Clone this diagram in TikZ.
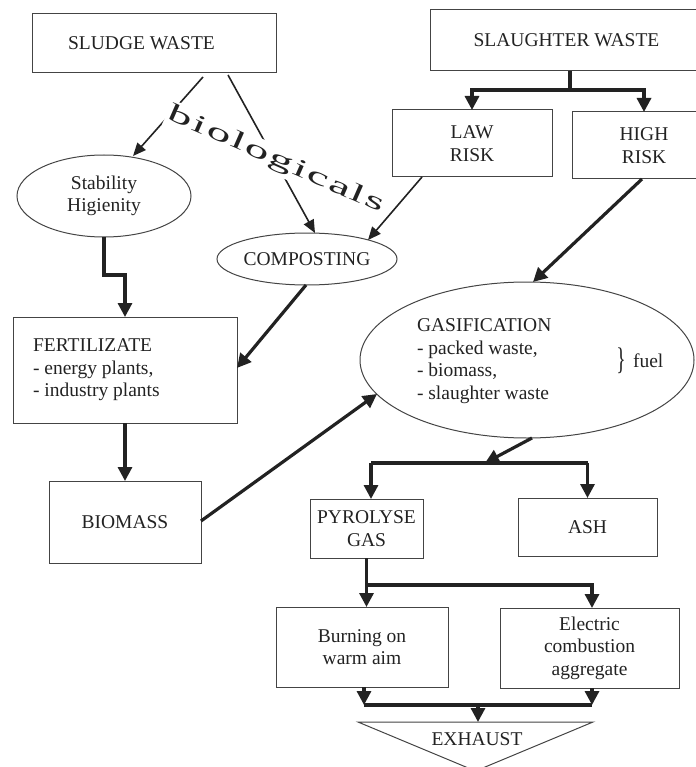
\documentclass[tikz,border=0pt]{standalone}
\usepackage{fontspec}
\setmainfont{Liberation Serif}
\usetikzlibrary{arrows.meta,shapes.geometric,calc}
\definecolor{ink}{HTML}{222222}
\definecolor{boxline}{HTML}{444444}
\newcommand{\ks}{\kern1pt}
\begin{document}
\begin{tikzpicture}[x=1pt,y=-1pt,
  font=\fontsize{19.5}{22.5}\selectfont,
  every node/.style={text=ink, inner sep=0pt, outer sep=0pt},
  box/.style={draw=boxline, line width=1pt, rectangle, align=center},
  oval/.style={draw=boxline, line width=1pt, ellipse, align=center},
  thickarrow/.style={draw=ink, line width=3.2pt, -{Triangle[width=14pt,length=14pt]}},
  thickline/.style={draw=ink, line width=3.2pt},
  thinarrow/.style={draw=ink, line width=1.6pt, -{Triangle[width=11pt,length=13pt]}}
]
\useasboundingbox (0,0) rectangle (695,767);

% nodes
\node[box, minimum width=244pt, minimum height=59pt] (sludge) at (154,43.5) {SLUDGE WASTE\hspace*{25pt}};
\node[box, minimum width=273pt, minimum height=61pt] (slaughter) at (566.5,40.5) {SLAUGHTER WASTE};
\node[box, minimum width=160pt, minimum height=67pt] (law) at (472,143.5) {LAW\\RISK};
\node[box, minimum width=144pt, minimum height=67pt] (high) at (644,145.5) {HIGH\\RISK};
\node[oval, minimum width=174pt, minimum height=82pt] (stab) at (104,196) {Stability\\Higienity};
\node[oval, minimum width=180pt, minimum height=52pt] (compost) at (307,259) {COMPOSTING};
\node[box, minimum width=224pt, minimum height=106pt] (fert) at (125,370) {};
\node[anchor=west, align=left] (ferttext) at (33,370) {FERTILIZATE\\- energy plants,\\- industry plants};
\node[box, minimum width=152pt, minimum height=82pt] (biomass) at (125,522) {BIOMASS};
\node[oval, minimum width=334pt, minimum height=156pt] (gas) at (527,360) {};
\node[anchor=west, align=left] (gastext) at (417,361) {GASIFICATION\\- packed waste,\\- biomass,\\- slaughter waste};
\node (brace) at (621,361) {\scalebox{1}[1.6]{\}}};
\node[anchor=west] (fuel) at (633,361) {fuel};
\node[box, minimum width=113pt, minimum height=59pt] (pyro) at (366.5,528.5) {PYROLYSE\\GAS};
\node[box, minimum width=139pt, minimum height=58pt] (ash) at (587.5,527) {ASH};
\node[box, minimum width=172pt, minimum height=80pt] (burn) at (362,647) {Burning on\\warm aim};
\node[box, minimum width=179pt, minimum height=80pt] (elec) at (589.5,648) {Electric\\combustion\\aggregate};
\coordinate (exl) at (358,722);
\coordinate (exr) at (593,722);
\coordinate (exa) at (475.5,771);
\draw[boxline, line width=1pt] (exl) -- (exr) -- (exa) -- cycle;
\node (exhaust) at (477,739) {EXHAUST};

% thin connectors (biological)
\draw[thinarrow] ($(sludge.south west)+(171,4)$) -- ($(stab.north)+(29,1)$);
\draw[thinarrow] ($(sludge.south west)+(196,2)$) -- ($(compost.north)+(8,0)$);
\draw[thinarrow] ($(law.south west)+(30,0)$) -- ($(compost.north)+(61,7)$);

% biologicals label over the thin connectors
\node[rotate=-23.7, fill=white, inner xsep=2pt, inner ysep=2.5pt, font=\fontsize{25}{25}\selectfont] (bio) at (276,160)
  {\scalebox{1.95}[1]{b\ks i\ks o\ks l\ks o\ks g\ks i\ks c\ks a\ks l\ks s}};

% left column
\draw[thickarrow] (stab.south) -- ++(0,38) -| (fert.north);
\draw[thickarrow] ($(compost.south)+(-1,0)$) -- ($(fert.east)+(0,-2)$);
\draw[thickarrow] (fert.south) -- (biomass.north);
\draw[thickarrow] ($(biomass.east)+(0,-1)$) -- ($(gas.west)+(17,34)$);

% slaughter branch
\coordinate (sj) at ($(slaughter.south)+(3.5,19)$);
\draw[thickline] (slaughter.south -| sj) -- (sj);
\draw[thickarrow] (sj) -| (law.north);
\draw[thickarrow] (sj) -| (high.north);
\draw[thickarrow] ($(high.south west)+(70,0)$) -- ($(gas.north)+(6,0)$);

% gasification outputs
\coordinate (gl) at ($(pyro.north)+(4.5,-36)$);
\coordinate (gr) at ($(ash.north)+(0,-35)$);
\coordinate (gm) at ($(gl)+(114,0)$);
\draw[thickline] (gl) -- (gr);
\draw[thickarrow] (gl) -- (gl |- pyro.north);
\draw[thickarrow] (gr) -- (ash.north);
\draw[thickarrow] ($(gas.south)+(5,0)$) -- (gm);

% pyrolyse gas outputs
\coordinate (pj) at ($(pyro.south)+(0,27)$);
\coordinate (et) at ($(elec.north)+(2.5,0)$);
\draw[thickarrow] (pyro.south) -- (burn.north -| pyro.south);
\draw[thickarrow] (pj) -| (et);

% to exhaust
\coordinate (bs) at ($(burn.south)+(2,0)$);
\coordinate (es) at ($(elec.south)+(2.5,0)$);
\coordinate (bj) at ($(bs)+(0,18)$);
\coordinate (ej) at (es |- bj);
\coordinate (mj) at ($(bj)!0.5!(ej)$);
\draw[thickarrow] (bs) -- (bj);
\draw[thickarrow] (es) -- (ej);
\draw[thickline] (bj) -- (ej);
\draw[thickarrow] (mj) -- (mj |- exl);
\end{tikzpicture}
\end{document}
